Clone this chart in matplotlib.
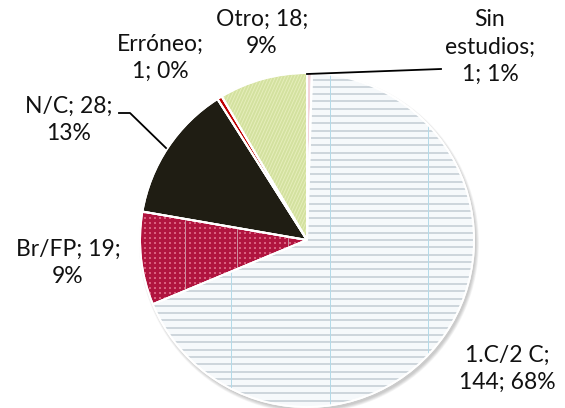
import numpy as np
import matplotlib
matplotlib.use("Agg")
import matplotlib.pyplot as plt
from matplotlib.patches import Wedge
from matplotlib.collections import LineCollection

# Survey data: education level of respondents
categories = ["Sin\nestudios", "1.C/2 C", "Br/FP", "N/C", "Erróneo", "Otro"]
counts = [1, 144, 19, 28, 1, 18]
percents = [1, 68, 9, 13, 0, 9]
# how each data label is wrapped
label_formats = [
    "{c};\n{n}; {p}%",
    "{c};\n{n}; {p}%",
    "{c}; {n};\n{p}%",
    "{c}; {n};\n{p}%",
    "{c};\n{n}; {p}%",
    "{c}; {n};\n{p}%",
]
base_colors = ["#F3D3DA", "#F6F9FB", "#B0143F", "#1F1D13", "#C00000", "#D3E19F"]

W, H = 565, 408
fig = plt.figure(figsize=(W / 100, H / 100), dpi=100)
ax = fig.add_axes([0, 0, 1, 1])
ax.set_axis_off()

cx, cy, R = 307, H - 240, 167

# soft shadow under the pie
for k in range(6):
    ax.add_patch(plt.Circle((cx + 2, cy - 3), R + 0.6 * k, color="#000000",
                            alpha=0.035, lw=0, zorder=0))

wedges, _ = ax.pie(counts, startangle=90, counterclock=False, center=(cx, cy),
                   radius=R, colors=base_colors,
                   wedgeprops=dict(edgecolor="white", linewidth=1.4))
for w in wedges:
    w.set_zorder(1)

ax.set_xlim(0, W)
ax.set_ylim(0, H)
ax.set_aspect("auto")


def clipped(segs, wedge, color, lw, z=2):
    lc = LineCollection(segs, colors=color, linewidths=lw, zorder=z)
    lc.set_clip_path(wedge)
    ax.add_collection(lc)


# ruled-paper texture for 1.C/2 C
w = wedges[1]
ys = np.arange(0, H, 7.3)
clipped([[(0, y), (W, y)] for y in ys], w, "#CDD6DC", 1.4)
xs = [133, 231, 330, 428]
clipped([[(x, 0), (x, H)] for x in xs], w, "#B3DAE8", 0.7)

# dotted texture for Br/FP
w = wedges[2]
gx, gy = np.meshgrid(np.arange(130, 320, 5.0), np.arange(0, H, 5.0))
sc = ax.scatter(gx.ravel(), gy.ravel(), s=1.6, marker="s", c="#D8607F",
                linewidths=0, zorder=2)
sc.set_clip_path(w)
clipped([[(x, 0), (x, H)] for x in [185, 237, 288]], w, "#CF8FA1", 0.7)

# diagonal weave for Otro
w = wedges[5]
offs = np.arange(-600, 600, 3.2)
clipped([[(o, 0), (o + H * 0.45, H)] for o in offs], w, "#E6EEBB", 0.7)

# white separators on top of textures
for w in wedges:
    ax.add_patch(Wedge(w.center, w.r, w.theta1, w.theta2, fill=False,
                       edgecolor="white", linewidth=1.4, zorder=3))

label_pos = [(490, 47), (507, 369), (68, 263), (69, 120), (160, 58), (262, 33)]
for cat, n, p, fmt, (x, y) in zip(categories, counts, percents, label_formats, label_pos):
    ax.text(x, H - y, fmt.format(c=cat, n=n, p=p), ha="center", va="center",
            multialignment="center", fontsize=16.5, linespacing=1.38,
            color="#111111", family=["Lato", "DejaVu Sans"], zorder=5)

# leader lines
ax.plot([307, 441], [H - 74, H - 69], color="black", lw=1.3, zorder=4)
ax.plot([119, 130, 166], [H - 113, H - 113, H - 148], color="black", lw=1.3, zorder=4)

fig.savefig("out.png", dpi=100)
